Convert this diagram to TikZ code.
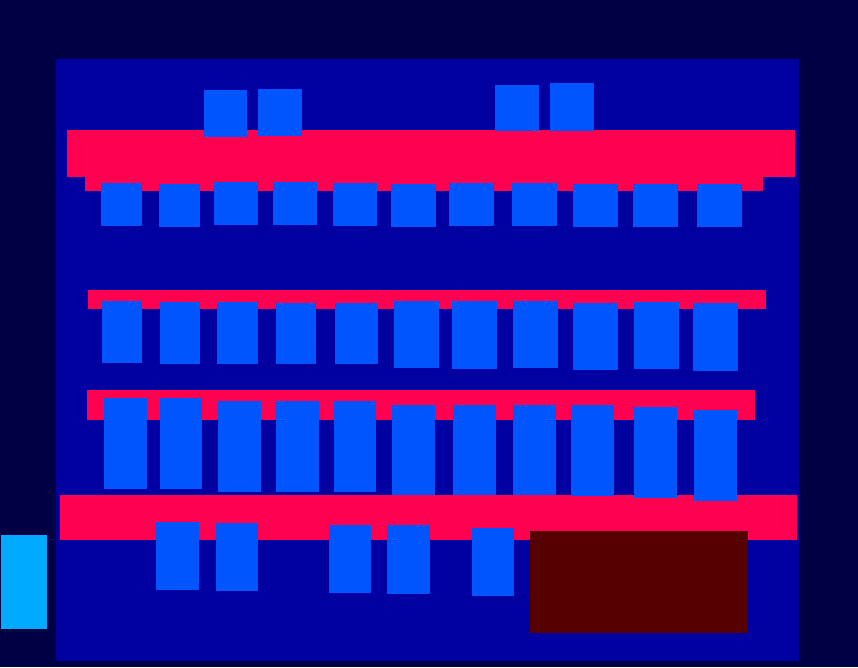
\documentclass[tikz,border=0pt]{standalone}
\definecolor{bgnavy}{RGB}{0,0,68}
\definecolor{panelblue}{RGB}{0,0,160}
\definecolor{barred}{RGB}{255,0,80}
\definecolor{boxblue}{RGB}{0,85,255}
\definecolor{lightblue}{RGB}{0,170,255}
\definecolor{darkred}{RGB}{85,0,0}
\tikzset{
  bg/.style={fill=bgnavy},
  panel/.style={fill=panelblue},
  bar/.style={fill=barred},
  blk/.style={fill=boxblue},
  lblk/.style={fill=lightblue},
  dblk/.style={fill=darkred}
}
\begin{document}
\begin{tikzpicture}[x=1pt,y=-1pt]
\useasboundingbox (0,0) rectangle (858,667);
\path[bg] (0,0) rectangle (858,667);
\path[panel] (56,59) rectangle (799,661);
% red bars
\path[bar] (67,130) rectangle (795,177);
\path[bar] (85,176) rectangle (763,191);
\path[bar] (88,290) rectangle (766,309);
\path[bar] (87,390) rectangle (755,420);
\path[bar] (60,495) rectangle (797,540);
% boxes above top bar
\foreach \a/\b/\c/\d in {204/90/247/137, 258/89/302/136, 495/85/539/131, 550/83/594/131}
  \path[blk] (\a,\b) rectangle (\c,\d);
% row 1
\foreach \a/\b/\c/\d in {101/183/142/226, 159/184/200/227, 214/182/258/225, 273/182/317/225, 333/183/377/226, 391/184/436/227, 449/183/494/226, 512/183/557/226, 573/184/618/227, 633/184/678/227, 697/184/742/227}
  \path[blk] (\a,\b) rectangle (\c,\d);
% row 2
\foreach \a/\b/\c/\d in {102/301/142/363, 160/302/200/364, 217/302/258/364, 276/303/316/364, 335/303/378/364, 394/301/439/368, 452/301/497/369, 513/301/558/368, 573/303/618/370, 634/302/679/369, 693/303/738/371}
  \path[blk] (\a,\b) rectangle (\c,\d);
% row 3
\foreach \a/\b/\c/\d in {104/398/147/489, 160/398/202/489, 218/401/261/492, 276/401/319/492, 334/401/376/492, 392/405/435/495, 453/405/496/495, 513/405/556/495, 571/405/614/496, 634/407/677/498, 694/410/737/501}
  \path[blk] (\a,\b) rectangle (\c,\d);
% row 4
\foreach \a/\b/\c/\d in {156/522/199/590, 216/523/258/591, 329/525/371/593, 387/525/430/594, 472/528/514/596}
  \path[blk] (\a,\b) rectangle (\c,\d);
% dark red block
\path[dblk] (530,531) rectangle (748,633);
% light blue block
\path[lblk] (1,535) rectangle (47,629);
\end{tikzpicture}
\end{document}
